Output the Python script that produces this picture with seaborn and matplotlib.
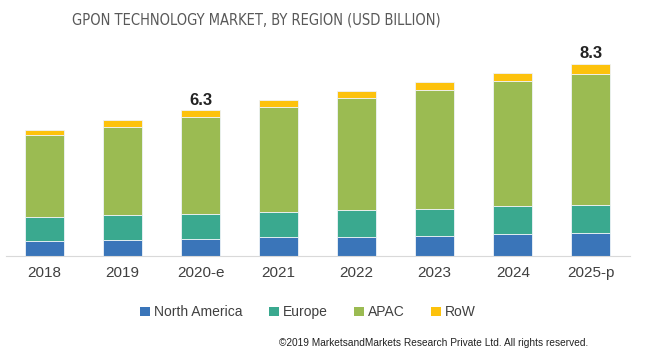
import matplotlib
matplotlib.use('Agg')
import matplotlib.pyplot as plt
import seaborn as sns
import numpy as np
from matplotlib.patches import Patch

# ── data (USD billion) ────────────────────────────────────────────
years = ['2018', '2019', '2020-e', '2021', '2022', '2023', '2024', '2025-p']
north_america = [0.64, 0.68, 0.75, 0.81, 0.83, 0.87, 0.94, 0.99]
europe        = [1.03, 1.07, 1.06, 1.09, 1.17, 1.17, 1.22, 1.20]
apac          = [3.56, 3.85, 4.19, 4.55, 4.83, 5.13, 5.41, 5.70]
row           = [0.22, 0.27, 0.30, 0.29, 0.30, 0.37, 0.37, 0.41]
series_names  = ['North America', 'Europe', 'APAC', 'RoW']
totals_shown  = {'2020-e': '6.3', '2025-p': '8.3'}

colors = ['#3a75b9', '#3aa98f', '#9bbb52', '#fdc20c']

sns.set_style('white')
plt.rcParams['font.family'] = ['Liberation Sans', 'DejaVu Sans']

fig = plt.figure(figsize=(6.5, 3.64), dpi=100)
ax = fig.add_axes([0.0085, 0.297, 0.9605, 0.571])

bottom = np.zeros(len(years))
for name, vals, c in zip(series_names, [north_america, europe, apac, row], colors):
    sns.barplot(x=years, y=vals, bottom=bottom, color=c, saturation=1, width=0.5,
                edgecolor='#eef3f8', linewidth=0.6, ax=ax, label=name)
    bottom += np.array(vals)

for i, y in enumerate(years):
    if y in totals_shown:
        ax.text(i, bottom[i] + 0.12, totals_shown[y], ha='center', va='bottom',
                fontsize=12, color='#222222', fontweight='bold')

ax.set_xlim(-0.5, len(years) - 0.5)
ax.set_ylim(0, 9)
ax.set_yticks([])
for s in ['top', 'right', 'left']:
    ax.spines[s].set_visible(False)
ax.spines['bottom'].set_color('#d9d9d9')
ax.tick_params(axis='x', length=0, pad=7, labelsize=11, labelcolor='#404040')
ax.set_xlabel(''); ax.set_ylabel('')
if ax.get_legend():
    ax.get_legend().remove()

fig.text(0.394, 0.945, 'GPON TECHNOLOGY MARKET, BY REGION (USD BILLION)',
         ha='center', va='center', fontsize=10.5, color='#595959',
         family=['DejaVu Sans'], stretch='condensed')

handles = [Patch(facecolor=c, edgecolor='none') for c in colors]
fig.legend(handles, series_names, loc='center', bbox_to_anchor=(0.474, 0.142),
           ncol=4, frameon=False, fontsize=10, handlelength=0.7,
           handleheight=0.7, handletextpad=0.3, columnspacing=1.9,
           labelcolor='#404040')

fig.text(0.905, 0.057,
         '©2019 MarketsandMarkets Research Private Ltd. All rights reserved.',
         ha='right', va='center', fontsize=7.3, color='#222222')

fig.savefig('out.png', dpi=100)
